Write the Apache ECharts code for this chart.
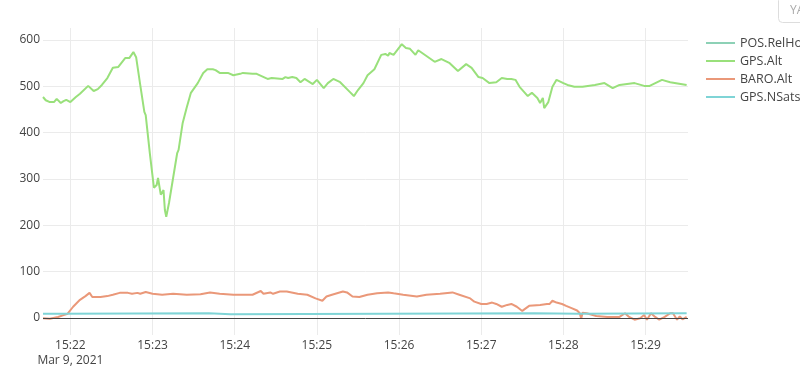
<!DOCTYPE html>
<html>
<head>
<meta charset="utf-8">
<script src="https://cdn.jsdelivr.net/npm/echarts@6/dist/echarts.min.js"></script>
<style>html,body{margin:0;padding:0;background:#fff;}#c{width:800px;height:391px;}</style>
</head>
<body>
<div id="c"></div>
<script>
// ---- data (times are HH:MM:SS on Mar 9, 2021) ----
const seriesNames = ['POS.RelHome', 'GPS.Alt', 'BARO.Alt', 'GPS.NSats'];
const yTicks = [0, 100, 200, 300, 400, 500, 600];
const xTickLabels = ['15:22', '15:23', '15:24', '15:25', '15:26', '15:27', '15:28', '15:29'];
const dateLabel = 'Mar 9, 2021';

const posRelHomeTimes = [];
const posRelHome = [];

const gpsTimes = ['15:21:40','15:21:42','15:21:45','15:21:48','15:21:50','15:21:53','15:21:55','15:21:57','15:22:00','15:22:04','15:22:07','15:22:13','15:22:17','15:22:20','15:22:23','15:22:27','15:22:31','15:22:35','15:22:40','15:22:43','15:22:46','15:22:48','15:22:51','15:22:54','15:22:55','15:22:58','15:23:01','15:23:03','15:23:04','15:23:06','15:23:08','15:23:09','15:23:10','15:23:12','15:23:15','15:23:18','15:23:19','15:23:22','15:23:25','15:23:28','15:23:33','15:23:37','15:23:40','15:23:44','15:23:46','15:23:49','15:23:55','15:23:59','15:24:04','15:24:06','15:24:13','15:24:16','15:24:24','15:24:27','15:24:28','15:24:35','15:24:37','15:24:39','15:24:42','15:24:45','15:24:48','15:24:51','15:24:57','15:25:00','15:25:05','15:25:08','15:25:12','15:25:17','15:25:24','15:25:27','15:25:30','15:25:34','15:25:37','15:25:42','15:25:47','15:25:48','15:25:50','15:25:52','15:25:53','15:25:56','15:26:02','15:26:05','15:26:08','15:26:12','15:26:14','15:26:15','15:26:26','15:26:31','15:26:37','15:26:43','15:26:49','15:26:53','15:26:58','15:27:01','15:27:06','15:27:11','15:27:15','15:27:19','15:27:22','15:27:25','15:27:28','15:27:34','15:27:37','15:27:41','15:27:43','15:27:45','15:27:46','15:27:49','15:27:52','15:27:55','15:28:00','15:28:03','15:28:08','15:28:14','15:28:23','15:28:30','15:28:36','15:28:41','15:28:52','15:28:59','15:29:03','15:29:12','15:29:18','15:29:30'];
const gpsAlt = [477,470,466,466,473,464,468,471,466,477,484,501,490,494,503,518,540,542,561,561,574,563,503,445,438,356,281,287,302,266,276,233,218,248,302,356,363,421,455,486,507,529,537,537,535,529,529,524,527,529,527,527,516,518,516,516,520,518,520,518,509,516,505,514,496,507,516,509,488,479,492,507,524,537,568,566,570,566,572,568,591,583,581,568,578,576,553,559,550,533,548,540,520,518,507,509,518,516,516,514,499,479,486,475,464,475,453,466,499,514,507,503,499,499,503,507,496,503,507,501,501,514,509,503];

const baroTimes = ['15:21:40','15:21:45','15:21:51','15:21:55','15:21:58','15:22:02','15:22:07','15:22:11','15:22:14','15:22:16','15:22:18','15:22:22','15:22:27','15:22:31','15:22:36','15:22:42','15:22:45','15:22:49','15:22:51','15:22:55','15:23:00','15:23:07','15:23:15','15:23:25','15:23:35','15:23:42','15:23:49','15:23:59','15:24:13','15:24:19','15:24:21','15:24:26','15:24:28','15:24:33','15:24:38','15:24:46','15:24:53','15:24:59','15:25:04','15:25:07','15:25:11','15:25:19','15:25:22','15:25:26','15:25:31','15:25:37','15:25:44','15:25:52','15:25:56','15:26:03','15:26:13','15:26:20','15:26:30','15:26:39','15:26:44','15:26:52','15:26:55','15:27:00','15:27:04','15:27:08','15:27:11','15:27:15','15:27:19','15:27:22','15:27:26','15:27:30','15:27:35','15:27:43','15:27:48','15:27:50','15:27:52','15:27:55','15:27:59','15:28:02','15:28:06','15:28:10','15:28:12','15:28:13','15:28:14','15:28:17','15:28:24','15:28:32','15:28:41','15:28:45','15:28:48','15:28:52','15:28:56','15:28:59','15:29:01','15:29:04','15:29:07','15:29:10','15:29:14','15:29:18','15:29:20','15:29:23','15:29:25','15:29:27','15:29:30'];
const baroAlt = [-1,-2,2,6,9,24,39,47,54,45,45,45,47,50,54,54,52,54,52,56,52,50,52,50,51,55,52,50,50,58,52,55,52,57,57,52,50,42,37,46,50,57,55,46,45,50,53,55,53,50,46,50,52,55,50,42,35,30,30,33,30,24,28,30,24,15,26,28,30,30,37,33,30,26,21,16,10,-2,11,10,4,2,2,10,2,-4,-1,6,-4,10,2,-4,2,10,10,-4,3,-3,2];

const nsatsTimes = ['15:21:40','15:21:52','15:21:53','15:23:41','15:23:42','15:23:57','15:23:58','15:27:39','15:27:40','15:28:11','15:28:12','15:29:30'];
const nsats = [9,9,10,10,8,8,10,10,9,9,10,10];

// ---- helpers ----
function toSec(t) { const p = t.split(':').map(Number); return (p[0] - 15) * 3600 + p[1] * 60 + p[2]; }
function pairs(times, vals) { return times.map((t, i) => [toSec(t), vals[i]]); }

const colors = ['#8dd1b6', '#99e07b', '#ea9879', '#7fd4d6'];
const seriesData = [pairs(posRelHomeTimes, posRelHome), pairs(gpsTimes, gpsAlt), pairs(baroTimes, baroAlt), pairs(nsatsTimes, nsats)];

const chart = echarts.init(document.getElementById('c'), null, { renderer: 'canvas' });
const font = '"Open Sans", "Noto Sans", sans-serif';

const series = seriesNames.map((name, i) => ({
  name: name,
  type: 'line',
  data: seriesData[i],
  symbol: 'none',
  showSymbol: false,
  animation: false,
  color: colors[i],
  lineStyle: { width: 2, color: colors[i] },
  z: 2 + i
}));
series[0].markLine = {
  silent: true, symbol: 'none', animation: false,
  label: { show: false },
  lineStyle: { color: '#444', width: 1, type: 'solid' },
  data: [{ yAxis: 0 }]
};

chart.setOption({
  animation: false,
  textStyle: { fontFamily: font },
  grid: { left: 43, right: 112, top: 28, bottom: 56, containLabel: false },
  xAxis: {
    type: 'value',
    min: toSec('15:21:40'),
    max: toSec('15:29:31'),
    minInterval: 60,
    maxInterval: 60,
    axisLine: { show: false },
    axisTick: { show: false },
    splitLine: { show: true, showMinLine: false, showMaxLine: false, lineStyle: { color: '#ebebeb', width: 1 } },
    axisLabel: {
      showMinLabel: false, showMaxLabel: false,
      color: '#444', fontSize: 12, fontFamily: font, margin: 3, lineHeight: 15,
      formatter: function (v) {
        if (v % 60 !== 0) return '';
        const idx = v / 60 - 22;
        let s = xTickLabels[idx] || '';
        if (idx === 0) s += '\n' + dateLabel;
        return s;
      }
    }
  },
  yAxis: {
    type: 'value',
    min: -37,
    max: 626,
    minInterval: 100,
    maxInterval: 100,
    axisLine: { show: false },
    axisTick: { show: false },
    splitLine: { show: true, showMinLine: false, showMaxLine: false, lineStyle: { color: '#ebebeb', width: 1 } },
    axisLabel: {
      showMinLabel: false, showMaxLabel: false,
      color: '#444', fontSize: 12, fontFamily: font, margin: 3,
      formatter: function (v) { return yTicks.indexOf(v) >= 0 ? String(v) : ''; }
    }
  },
  legend: {
    orient: 'vertical',
    left: 706,
    top: 36,
    padding: 0,
    icon: 'rect',
    itemWidth: 29,
    itemHeight: 2,
    itemGap: 4,
    textStyle: { color: '#444', fontSize: 12.5, fontFamily: font, lineHeight: 14 },
    data: seriesNames
  },
  graphic: [
    { type: 'rect', left: 778, top: -4, shape: { width: 70, height: 26, r: 4 }, style: { fill: '#fff', stroke: '#ddd', lineWidth: 1 }, z: 100 },
    { type: 'text', left: 790, top: 5, style: { text: 'YAML', fill: '#aaa', font: '12px ' + font }, z: 101 }
  ],
  series: series
});
</script>
</body>
</html>
